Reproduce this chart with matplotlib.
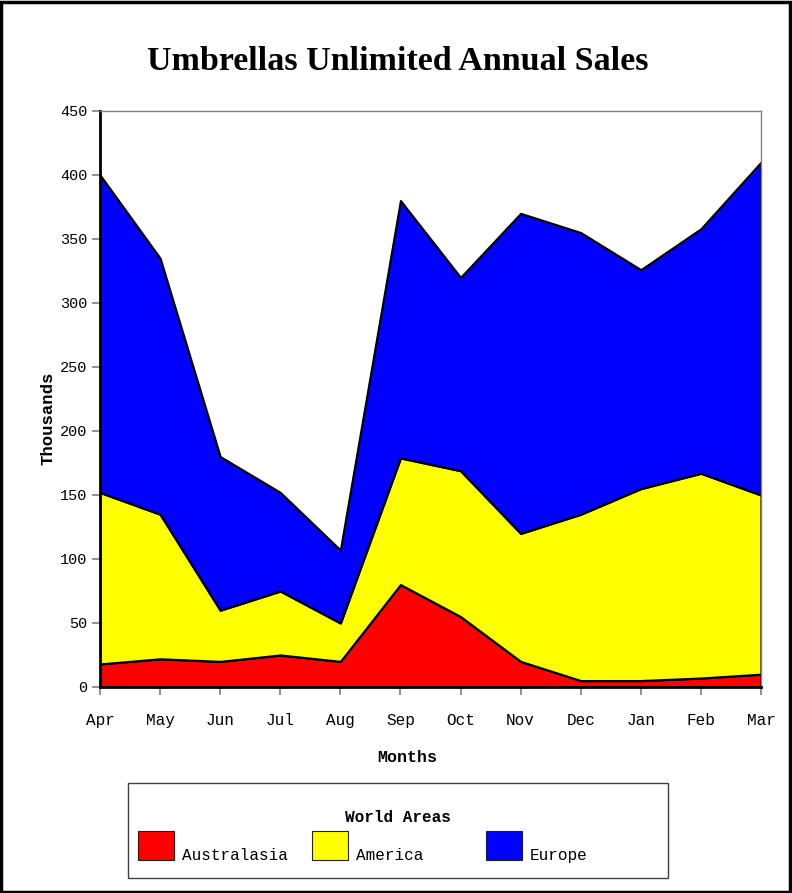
import matplotlib
matplotlib.use("Agg")
import matplotlib.pyplot as plt
from matplotlib.patches import Rectangle

# donnees (valeurs par zone, en milliers)
months = ["Apr", "May", "Jun", "Jul", "Aug", "Sep", "Oct", "Nov", "Dec", "Jan", "Feb", "Mar"]
australasia = [18, 22, 20, 25, 20, 80, 55, 20, 5, 5, 7, 10]
america = [134, 113, 40, 50, 30, 99, 114, 100, 130, 150, 160, 140]
europe = [248, 200, 120, 77, 57, 201, 151, 250, 220, 171, 191, 260]
areas = ["Australasia", "America", "Europe"]
colors = ["#ff0000", "#ffff00", "#0000ff"]

W, H = 792, 893
mono = "Liberation Mono"

fig = plt.figure(figsize=(W / 100, H / 100), dpi=100)
fig.patch.set_facecolor("white")

# cadre autour de la figure
fig.patches.append(Rectangle((0.001, 0.001), 0.997, 0.997, transform=fig.transFigure,
                             fill=False, edgecolor="black", linewidth=2.5))

ax = fig.add_axes([100 / W, 1 - 687 / H, 661 / W, 576 / H])
x = list(range(len(months)))
ax.stackplot(x, australasia, america, europe, colors=colors,
             edgecolor="black", linewidth=1.6)

ax.set_xlim(0, len(months) - 1)
ax.set_ylim(0, 450)
ax.set_xticks(x)
ax.set_xticklabels(months, fontfamily=mono, fontsize=11.5)
ax.set_yticks(range(0, 451, 50))
ax.set_yticklabels([str(v) for v in range(0, 451, 50)], fontfamily=mono, fontsize=11)
ax.tick_params(direction="out", length=6, color="#808080", width=1.2, pad=3)
ax.tick_params(axis="x", pad=13)

for side in ["left", "bottom"]:
    ax.spines[side].set_color("black")
    ax.spines[side].set_linewidth(2)
for side in ["top", "right"]:
    ax.spines[side].set_color("#808080")
    ax.spines[side].set_linewidth(1)

ax.set_xlabel("Months", fontfamily=mono, fontsize=12, fontweight="bold")
ax.xaxis.set_label_coords(0.465, -(758 - 687) / 576)
ax.xaxis.label.set_va("center")
ax.set_ylabel("Thousands", fontfamily=mono, fontsize=12.5, fontweight="bold")
ax.yaxis.set_label_coords(-(100 - 48) / 661, 0.5 - (418 - 399) / 576)
ax.yaxis.label.set_va("center")

fig.text(398 / W, 1 - 62 / H, "Umbrellas Unlimited Annual Sales",
         fontfamily="Liberation Serif", fontweight="bold", fontsize=24.5,
         ha="center", va="center")

# legende dessinee a la main, comme sur l'original
fig.patches.append(Rectangle((128 / W, 1 - 878 / H), 540 / W, 95 / H, transform=fig.transFigure,
                             facecolor="white", edgecolor="#404040", linewidth=1))
fig.text(398 / W, 1 - 817 / H, "World Areas", fontfamily=mono, fontsize=11.5,
         fontweight="bold", ha="center", va="center")
for i, (name, c) in enumerate(zip(areas, colors)):
    x0 = 138 + i * 174
    fig.patches.append(Rectangle((x0 / W, 1 - 860 / H), 36 / W, 29 / H, transform=fig.transFigure,
                                 facecolor=c, edgecolor="#202020", linewidth=0.8))
    fig.text((x0 + 44) / W, 1 - 860 / H, name, fontfamily=mono, fontsize=11.5,
             ha="left", va="baseline")

fig.savefig("out.png", dpi=100)
